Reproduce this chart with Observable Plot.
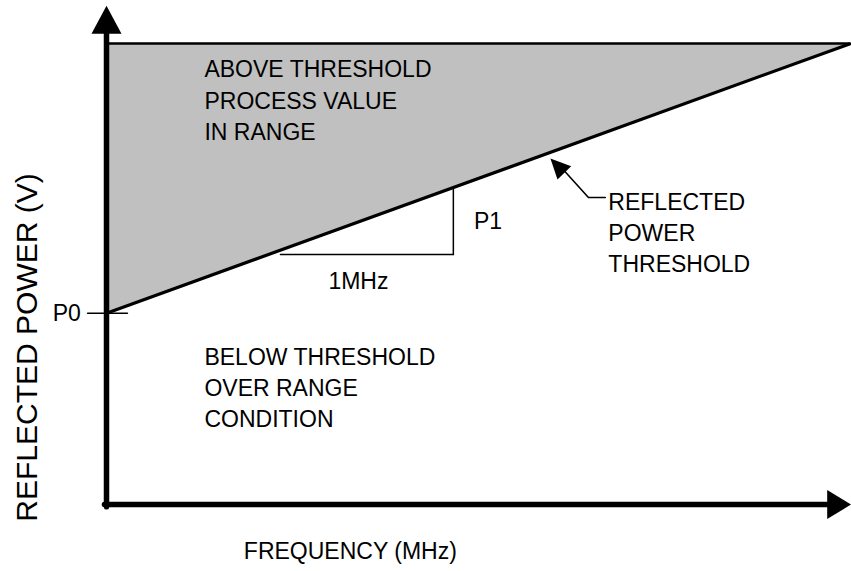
<!DOCTYPE html>
<html>
<head>
<meta charset="utf-8">
<script src="https://cdn.jsdelivr.net/npm/d3@7"></script>
<script src="https://cdn.jsdelivr.net/npm/@observablehq/plot@0.6"></script>
<style>
  html, body { margin: 0; padding: 0; background: #fff; }
  #chart { width: 851px; height: 571px; }
</style>
</head>
<body>
<div id="chart"></div>
<script>
// ---- data (frequency in MHz, reflected power in V) ----
const P0 = 1.0;              // threshold at 0 MHz
const P1 = 0.32;             // threshold rise per MHz
const freqs = [0, 4.4];      // plotted frequency span
const topLevel = 2.41;       // upper bound of the shaded region
const slopeRun = [1.03, 2.054]; // horizontal leg of the slope triangle (MHz)

const regionTexts = ["ABOVE THRESHOLD\nPROCESS VALUE\nIN RANGE", "BELOW THRESHOLD\nOVER RANGE\nCONDITION"];
const regionF = [0.58, 0.58];
const regionV = [2.122, 0.617];
const calloutText = "REFLECTED\nPOWER\nTHRESHOLD";
const xTitle = "FREQUENCY (MHz)";
const yTitle = "REFLECTED POWER (V)";

// ---- derived tables ----
const thr = f => P0 + P1 * f;
const band = freqs.map(f => ({f, low: thr(f), high: topLevel}));
const triLegY = thr(slopeRun[0]) - 0.023;
const triH = [{f: slopeRun[0], v: triLegY}, {f: slopeRun[1], v: triLegY}];
const triV = [{f: slopeRun[1], v: triLegY}, {f: slopeRun[1], v: thr(slopeRun[1])}];
const regions = regionTexts.map((t, i) => ({t, f: regionF[i], v: regionV[i]}));

// arrowhead symbol: tip at origin, pointing up before rotation
const arrowhead = (wr, lr) => ({
  draw(ctx, size) {
    const r = Math.sqrt(size / Math.PI);
    ctx.moveTo(0, 0);
    ctx.lineTo(-wr * r, lr * r);
    ctx.lineTo(wr * r, lr * r);
    ctx.closePath();
  }
});
const axisHeadY = arrowhead(1.0, 1.87);
const axisHeadX = arrowhead(0.97, 1.6);
const pointerHead = arrowhead(0.95, 2.0);

const font = "Liberation Sans, Arial, Helvetica, sans-serif";
const fs = 23;

const chart = Plot.plot({
  width: 851,
  height: 571,
  margin: 0,
  style: {fontFamily: font, background: "#fff", overflow: "visible"},
  x: {domain: [0, 4.4], range: [106, 849], axis: null},
  y: {domain: [0, 2.41], range: [504, 43], axis: null},
  marks: [
    // shaded region above threshold
    Plot.areaY(band, {x: "f", y1: "low", y2: "high", fill: "#c0c0c0"}),
    // top boundary
    Plot.line(band, {x: "f", y: "high", stroke: "black", strokeWidth: 2.5}),
    // threshold line
    Plot.line(band, {x: "f", y: "low", stroke: "black", strokeWidth: 3.2}),
    // slope triangle
    Plot.line(triH, {x: "f", y: "v", stroke: "black", strokeWidth: 1.5}),
    Plot.line(triV, {x: "f", y: "v", stroke: "black", strokeWidth: 1.5}),
    Plot.text(["1MHz"], {x: (slopeRun[0] + slopeRun[1]) / 2 - 0.05, y: triLegY - 0.141, fontSize: fs, fill: "black"}),
    Plot.text(["P1"], {x: slopeRun[1] + 0.205, y: (triLegY + thr(slopeRun[1])) / 2 - 0.005, fontSize: fs, fill: "black"}),
    // P0 tick and label
    Plot.line([{f: -0.112, v: P0}, {f: 0.124, v: P0}], {x: "f", y: "v", stroke: "black", strokeWidth: 1.5}),
    Plot.text(["P0"], {x: -0.152, y: P0, textAnchor: "end", fontSize: fs, fill: "black"}),
    // axes
    Plot.line([{f: 0, v: -0.012}, {f: 0, v: 2.47}], {x: "f", y: "v", stroke: "black", strokeWidth: 5.5}),
    Plot.line([{f: -0.012, v: 0}, {f: 4.28, v: 0}], {x: "f", y: "v", stroke: "black", strokeWidth: 5.5}),
    Plot.dot([{f: 0, v: 2.608}], {x: "f", y: "v", symbol: axisHeadY, r: 15, fill: "black", stroke: null}),
    Plot.dot([{f: 4.41, v: 0}], {x: "f", y: "v", symbol: axisHeadX, r: 15, fill: "black", stroke: null, rotate: 90}),
    // region labels
    Plot.text(regions, {x: "f", y: "v", text: "t", textAnchor: "start", lineAnchor: "middle", lineHeight: 1.35, fontSize: fs, fill: "black"}),
    // callout
    Plot.line([{f: 2.954, v: 1.605}, {f: 2.854, v: 1.605}, {f: 2.70, v: 1.755}], {x: "f", y: "v", stroke: "black", strokeWidth: 1.6}),
    Plot.dot([{f: 2.629, v: 1.809}], {x: "f", y: "v", symbol: pointerHead, r: 10, fill: "black", stroke: null, rotate: -44}),
    Plot.text([calloutText], {x: 2.972, y: 1.428, textAnchor: "start", lineAnchor: "middle", lineHeight: 1.35, fontSize: fs, fill: "black"}),
    // axis titles
    Plot.text([xTitle], {x: 1.444, y: -0.246, fontSize: fs, fill: "black"}),
    Plot.text([yTitle], {x: -0.47, y: 0.821, rotate: -90, fontSize: 30, fill: "black"})
  ]
});
document.getElementById("chart").appendChild(chart);
</script>
</body>
</html>
